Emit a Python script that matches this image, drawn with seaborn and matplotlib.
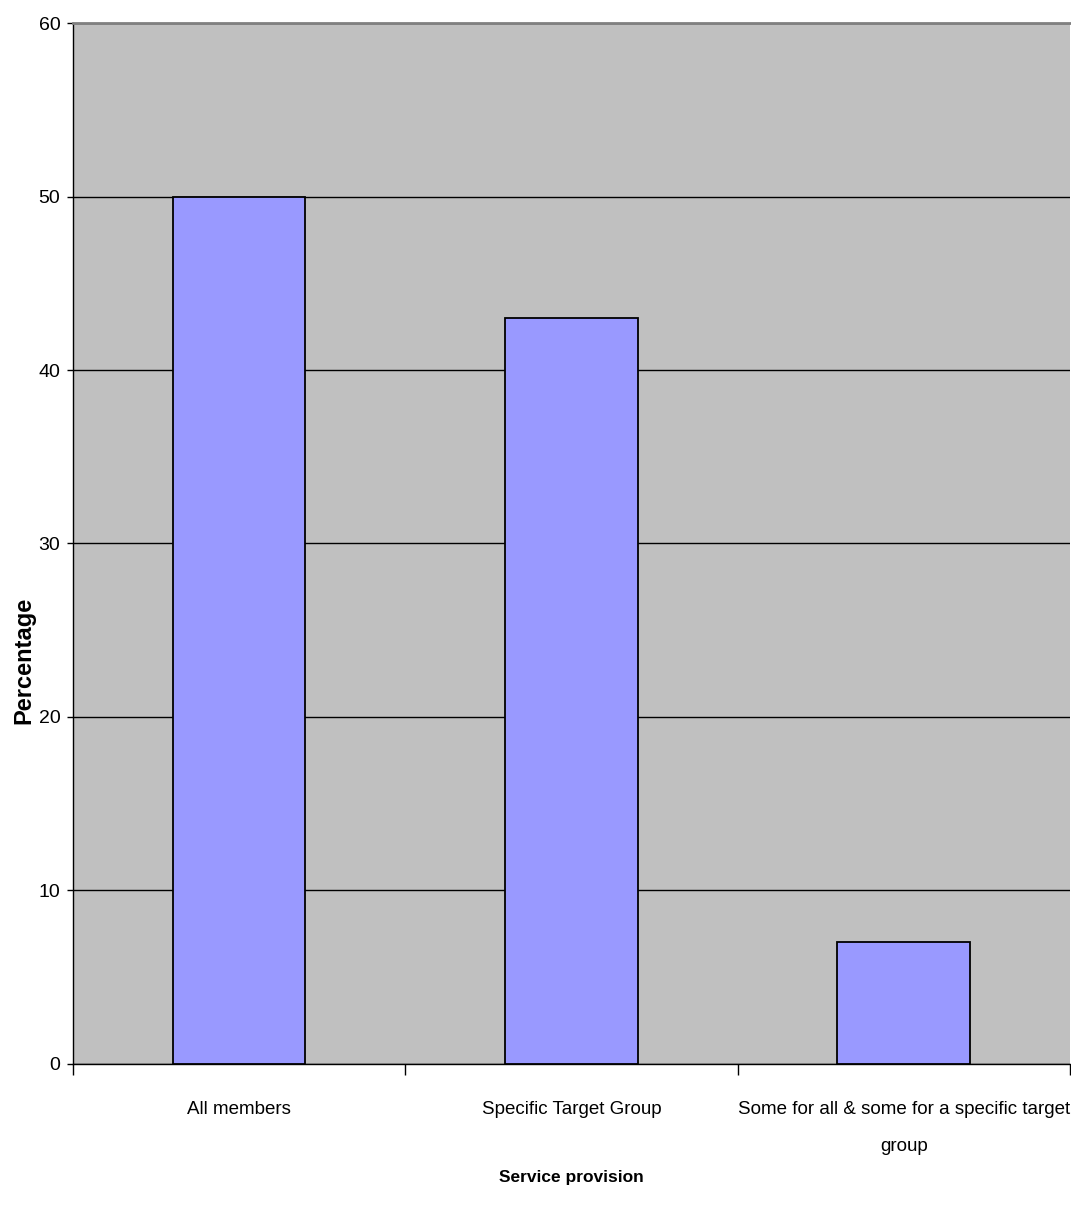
import matplotlib
matplotlib.use("Agg")
import matplotlib.pyplot as plt
import seaborn as sns
import pandas as pd
from matplotlib.ticker import FixedLocator

# Data
categories = ["All members", "Specific Target Group",
              "Some for all & some for a specific target\ngroup"]
percentages = [50, 43, 7]

sns.set_theme(style="white")
plt.rcParams["font.family"] = ["Liberation Sans", "DejaVu Sans"]
plt.rcParams["text.color"] = "black"
plt.rcParams["axes.labelcolor"] = "black"
plt.rcParams["xtick.color"] = "black"
plt.rcParams["ytick.color"] = "black"

df = pd.DataFrame({"provision": categories, "pct": percentages})

fig = plt.figure(figsize=(10.71, 12.24), dpi=100)
ax = fig.add_axes([0.068, 0.131, 0.931, 0.850])
ax.set_facecolor("#C0C0C0")

sns.barplot(x="provision", y="pct", data=df, color="#9999FF", width=0.4,
            edgecolor="black", linewidth=1.3, saturation=1, ax=ax, zorder=3)

ax.set_ylim(0, 60)
ax.set_xlim(-0.5, 2.5)
ax.set_yticks(range(0, 61, 10))
ax.yaxis.grid(True, color="black", linewidth=1)
ax.set_axisbelow(True)

# tick marks at category boundaries, labels at centres
ax.xaxis.set_minor_locator(FixedLocator([-0.5, 0.5, 1.5, 2.5]))
ax.tick_params(axis="x", which="major", length=0, pad=27, labelsize=13.5)
ax.tick_params(axis="x", which="minor", length=8, width=1, color="black", direction="out")
ax.tick_params(axis="y", length=4, width=1, color="black", direction="out", pad=5, labelsize=14)
ax.xaxis.set_ticks_position("bottom")
ax.yaxis.set_ticks_position("left")
for lbl in ax.get_xticklabels():
    lbl.set_linespacing(2.5)

for s in ["left", "bottom"]:
    ax.spines[s].set_color("black")
    ax.spines[s].set_linewidth(1)
ax.spines["top"].set_color("#808080")
ax.spines["top"].set_linewidth(2)
ax.spines["right"].set_visible(False)

ax.set_xlabel("Service provision", fontsize=12.5, fontweight="bold")
ax.xaxis.set_label_coords(0.5, -0.102)
ax.set_ylabel("Percentage", fontsize=17, fontweight="bold")
ax.yaxis.set_label_coords(-0.038, 0.388)

plt.savefig("out.png", dpi=100)
